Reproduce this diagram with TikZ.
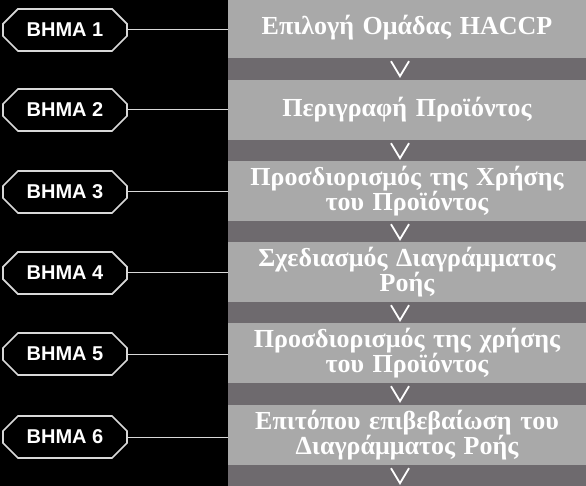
\documentclass[tikz,border=0pt]{standalone}
\usepackage{fontspec}
\setmainfont{Liberation Serif}
\newfontfamily\labfont{Liberation Sans}
\usetikzlibrary{shapes.misc,calc}
\definecolor{boxgray}{HTML}{A9A9A9}
\definecolor{gapgray}{HTML}{6E6A6E}
\definecolor{framegray}{HTML}{D8D8D8}
\begin{document}
\begin{tikzpicture}[x=1pt,y=-1pt,
  stepbox/.style={chamfered rectangle, chamfered rectangle sep=8pt,
    minimum width=124pt, minimum height=42pt, inner sep=0pt,
    fill=black, draw=framegray, line width=1.6pt, text=white,
    font=\labfont\bfseries\fontsize{20}{22}\selectfont},
  textbox/.style={fill=boxgray, minimum width=358pt, minimum height=60pt,
    text width=356pt, align=center, inner sep=0pt, text=white,
    font=\bfseries\fontsize{26}{25}\selectfont},
  conn/.style={draw=framegray, line width=1pt},
  chev/.style={draw=white, line width=1.8pt, line join=miter}]
\useasboundingbox (0,0) rectangle (586,486);
\fill[black] (0,0) rectangle (586,486);
\fill[gapgray] (228,0) rectangle (586,486);
% step labels
\node[stepbox] (l1) at (65,30) {ΒΗΜΑ 1};
\node[stepbox] (l2) at (65,110) {ΒΗΜΑ 2};
\node[stepbox] (l3) at (65,192) {ΒΗΜΑ 3};
\node[stepbox] (l4) at (65,273) {ΒΗΜΑ 4};
\node[stepbox] (l5) at (65,354) {ΒΗΜΑ 5};
\node[stepbox] (l6) at (65,437) {ΒΗΜΑ 6};
% boxes
\node[textbox] (b1) at (407,28) {Επιλογή Ομάδας HACCP};
\node[textbox] (b2) at (407,110) {Περιγραφή Προϊόντος};
\node[textbox] (b3) at (407,191) {Προσδιορισμός της Χρήσης\\του Προϊόντος};
\node[textbox] (b4) at (407,272) {Σχεδιασμός Διαγράμματος\\Ροής};
\node[textbox] (b5) at (407,353) {Προσδιορισμός της χρήσης\\του Προϊόντος};
\node[textbox] (b6) at (407,435) {Επιτόπου επιβεβαίωση του\\Διαγράμματος Ροής};
% connectors
\foreach \i in {1,...,6}{
  \draw[conn] (l\i.east) -- (l\i.east -| b\i.west);
}
% chevrons
\foreach \i in {1,...,6}{
  \draw[chev] ($(b\i.south)+(-16,3)$) -- ($(b\i.south)+(-7,18)$) -- ($(b\i.south)+(2,3)$);
}
\end{tikzpicture}
\end{document}
